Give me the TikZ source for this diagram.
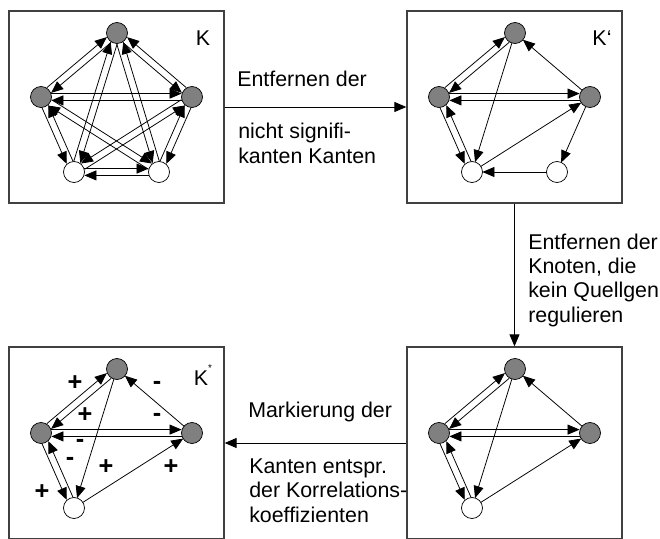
\documentclass[tikz,border=0pt]{standalone}
\usepackage{fontspec}
\setmainfont{Liberation Sans}
\usetikzlibrary{arrows.meta,calc}

\definecolor{knotgrau}{gray}{0.5}

\tikzset{%
  >={Triangle[length=0.3cm,width=0.25cm]},
  % Specifications for style of frames, genes and arrows:
       rahmen/.style = {rectangle, draw=black!75, line width=0.9pt,
                        minimum width=5.375cm, minimum height=4.8cm},
          gen/.style = {circle, draw=black, fill=knotgrau, line width=0.5pt,
                        minimum size=0.525cm, inner sep=0pt},
     quellgen/.style = {gen, fill=white},
        kante/.style = {->, line width=0.55pt},
        pfeil/.style = {->, line width=0.6pt},
       beschr/.style = {anchor=base west, align=left, inner sep=0pt},
      zeichen/.style = {font=\fontsize{18}{18}\bfseries, inner sep=0pt},
}

% arrow from gene #2 to gene #3, #1 = 1/-1 moves it to one side
\newcommand{\kante}[3][0]{%
  \pgfmathsetlengthmacro{\versatz}{#1*0.085cm}%
  \draw[kante] ($(#2)!0.26cm!(#3)!\versatz!90:(#3)$)
            -- ($(#3)!0.26cm!(#2)!\versatz!-90:(#2)$);}

\begin{document}
\begin{tikzpicture}[x=0.025cm, y=-0.025cm,
    every node/.append style={font=\fontsize{15.2}{17.1}\selectfont}]
  \clip (0,0) rectangle (660,539);
  % Frames of the four networks
  \node (boxK)       [rahmen] at (116.5,107) {};
  \node (boxKPrime)  [rahmen] at (514.5,107) {};
  \node (boxReduced) [rahmen] at (514.5,443) {};
  \node (boxKStar)   [rahmen] at (116.5,443) {};

  % Network K
  \node (kt)  [gen]      at (117,33)  {};
  \node (kl)  [gen]      at (41,97)   {};
  \node (kr)  [gen]      at (192,97)  {};
  \node (kbl) [quellgen] at (74,172)  {};
  \node (kbr) [quellgen] at (159,172) {};
  \node (kName) at (203,38) {K};
  \kante[1]{kl}{kt}    \kante[1]{kt}{kl}
  \kante[-1]{kt}{kr}   \kante[-1]{kr}{kt}
  \kante[1]{kl}{kr}    \kante[1]{kr}{kl}
  \kante[-1]{kl}{kbl}  \kante[-1]{kbl}{kl}
  \kante[1]{kr}{kbr}   \kante[1]{kbr}{kr}
  \kante[1]{kbl}{kbr}  \kante[1]{kbr}{kbl}
  \kante[1]{kt}{kbl}   \kante[1]{kbl}{kt}
  \kante[-1]{kt}{kbr}  \kante[-1]{kbr}{kt}
  \kante[1]{kl}{kbr}   \kante[1]{kbr}{kl}
  \kante[-1]{kr}{kbl}  \kante[-1]{kbl}{kr}

  % Network K' (significant edges only)
  \begin{scope}[shift={(398,0)}]
    \node (pt)  [gen]      at (117,33)  {};
    \node (pl)  [gen]      at (41,97)   {};
    \node (pr)  [gen]      at (192,97)  {};
    \node (pbl) [quellgen] at (74,172)  {};
    \node (pbr) [quellgen] at (159,172) {};
    \node (pName) at (204,38) {K‘};
  \end{scope}
  \kante[1]{pl}{pt}    \kante[1]{pt}{pl}
  \kante[1]{pl}{pr}    \kante[1]{pr}{pl}
  \kante[-1]{pl}{pbl}  \kante[-1]{pbl}{pl}
  \kante{pr}{pt}
  \kante{pt}{pbl}
  \kante{pbl}{pr}
  \kante{pr}{pbr}
  \kante{pbr}{pbl}

  % Network without the gene that regulates no source gene
  \begin{scope}[shift={(398,336)}]
    \node (rt)  [gen]      at (117,33)  {};
    \node (rl)  [gen]      at (41,97)   {};
    \node (rr)  [gen]      at (192,97)  {};
    \node (rbl) [quellgen] at (74,172)  {};
  \end{scope}
  \kante[1]{rl}{rt}    \kante[1]{rt}{rl}
  \kante[1]{rl}{rr}    \kante[1]{rr}{rl}
  \kante[-1]{rl}{rbl}  \kante[-1]{rbl}{rl}
  \kante{rr}{rt}
  \kante{rt}{rbl}
  \kante{rbl}{rr}

  % Network K* with signs of the correlation
  \begin{scope}[shift={(0,336)}]
    \node (st)  [gen]      at (117,33)  {};
    \node (sl)  [gen]      at (41,97)   {};
    \node (sr)  [gen]      at (192,97)  {};
    \node (sbl) [quellgen] at (74,172)  {};
    \node (sName) at (203,39)
          {K\raisebox{1.2ex}{\fontsize{7}{7}\selectfont *}};
    \node (vz1) [zeichen] at (75,47)   {+};
    \node (vz2) [zeichen] at (85,79)   {+};
    \node (vz3) [zeichen] at (157,49)  {-};
    \node (vz4) [zeichen] at (157,81)  {-};
    \node (vz5) [zeichen] at (80,107)  {-};
    \node (vz6) [zeichen] at (70,125)  {-};
    \node (vz7) [zeichen] at (42,156)  {+};
    \node (vz8) [zeichen] at (106,131) {+};
    \node (vz9) [zeichen] at (171,131) {+};
  \end{scope}
  \kante[1]{sl}{st}    \kante[1]{st}{sl}
  \kante[1]{sl}{sr}    \kante[1]{sr}{sl}
  \kante[-1]{sl}{sbl}  \kante[-1]{sbl}{sl}
  \kante{sr}{st}
  \kante{st}{sbl}
  \kante{sbl}{sr}

  % Steps between the networks
  \draw[pfeil] (boxK) -- (boxKPrime);
  \draw[pfeil] (boxKPrime) -- (boxReduced);
  \draw[pfeil] (boxReduced) -- (boxKStar);
  \node (stepOne)    [beschr] at (237,86)  {Entfernen der};
  \node (stepOneB)   [beschr] at (238,163) {nicht signifi-\\kanten Kanten};
  \node (stepTwo)    [beschr] at (528,322)
                     {Entfernen der\\Knoten, die\\kein Quellgen\\regulieren};
  \node (stepThree)  [beschr] at (248,417) {Markierung der};
  \node (stepThreeB) [beschr] at (249,522)
                     {Kanten entspr.\\der Korrelations-\\koeffizienten};
\end{tikzpicture}
\end{document}
